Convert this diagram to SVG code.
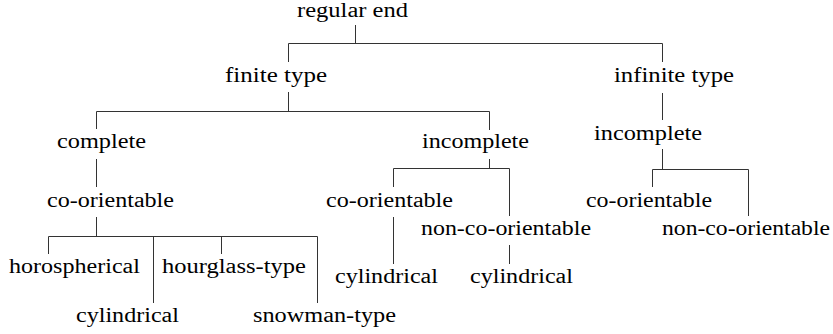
<svg xmlns="http://www.w3.org/2000/svg" width="833" height="334" viewBox="0 0 833 334">
<defs>
<style>
.e{stroke:#333;stroke-width:1;fill:none}
</style>
</defs>
<rect width="833" height="334" fill="#fff"/>
<g id="connectors" class="e">
<path d="M355.5 25V43.5M288.5 62V43.5H662.5V62"/>
<path d="M288.5 92V111.5M96.5 129V111.5H489.5V130"/>
<path d="M96.5 159V187"/>
<path d="M96.5 217V236.5M48.5 254V236.5H317.5V303M153.5 236.5V303M221.5 236.5V254"/>
<path d="M662.5 93V120"/>
<path d="M662.5 149V169.5M652.5 187V169.5H748.5V216"/>
<path d="M489.5 159V168.5M393.5 187V168.5H509.5V216"/>
<path d="M393.5 217V264"/>
<path d="M509.5 245V264"/>
</g>
<g id="nodes" font-family="Liberation Serif, DejaVu Serif, serif" font-size="20.5" fill="#000">
<g id="n-regular-end"><text x="297" y="17" textLength="111" lengthAdjust="spacingAndGlyphs">regular end</text></g>
<g id="n-finite-type"><text x="225" y="82" textLength="102" lengthAdjust="spacingAndGlyphs">finite type</text></g>
<g id="n-infinite-type"><text x="614" y="82" textLength="120" lengthAdjust="spacingAndGlyphs">infinite type</text></g>
<g id="n-complete"><text x="57" y="148" textLength="89" lengthAdjust="spacingAndGlyphs">complete</text></g>
<g id="n-incomplete-mid"><text x="422" y="148" textLength="107" lengthAdjust="spacingAndGlyphs">incomplete</text></g>
<g id="n-incomplete-right"><text x="594" y="140" textLength="108" lengthAdjust="spacingAndGlyphs">incomplete</text></g>
<g id="n-coor-left"><text x="47" y="207" textLength="127" lengthAdjust="spacingAndGlyphs">co-orientable</text></g>
<g id="n-coor-mid"><text x="326" y="207" textLength="127" lengthAdjust="spacingAndGlyphs">co-orientable</text></g>
<g id="n-coor-right"><text x="586" y="207" textLength="126" lengthAdjust="spacingAndGlyphs">co-orientable</text></g>
<g id="n-ncoor-mid"><text x="421" y="235" textLength="170" lengthAdjust="spacingAndGlyphs">non-co-orientable</text></g>
<g id="n-ncoor-right"><text x="662" y="235" textLength="168" lengthAdjust="spacingAndGlyphs">non-co-orientable</text></g>
<g id="n-horospherical"><text x="9" y="273" textLength="131" lengthAdjust="spacingAndGlyphs">horospherical</text></g>
<g id="n-hourglass"><text x="162" y="273" textLength="144" lengthAdjust="spacingAndGlyphs">hourglass-type</text></g>
<g id="n-cyl-left"><text x="76" y="322" textLength="103" lengthAdjust="spacingAndGlyphs">cylindrical</text></g>
<g id="n-snowman"><text x="253" y="322" textLength="143" lengthAdjust="spacingAndGlyphs">snowman-type</text></g>
<g id="n-cyl-mid-left"><text x="335" y="283" textLength="103" lengthAdjust="spacingAndGlyphs">cylindrical</text></g>
<g id="n-cyl-mid-right"><text x="470" y="283" textLength="103" lengthAdjust="spacingAndGlyphs">cylindrical</text></g>
</g>
</svg>
